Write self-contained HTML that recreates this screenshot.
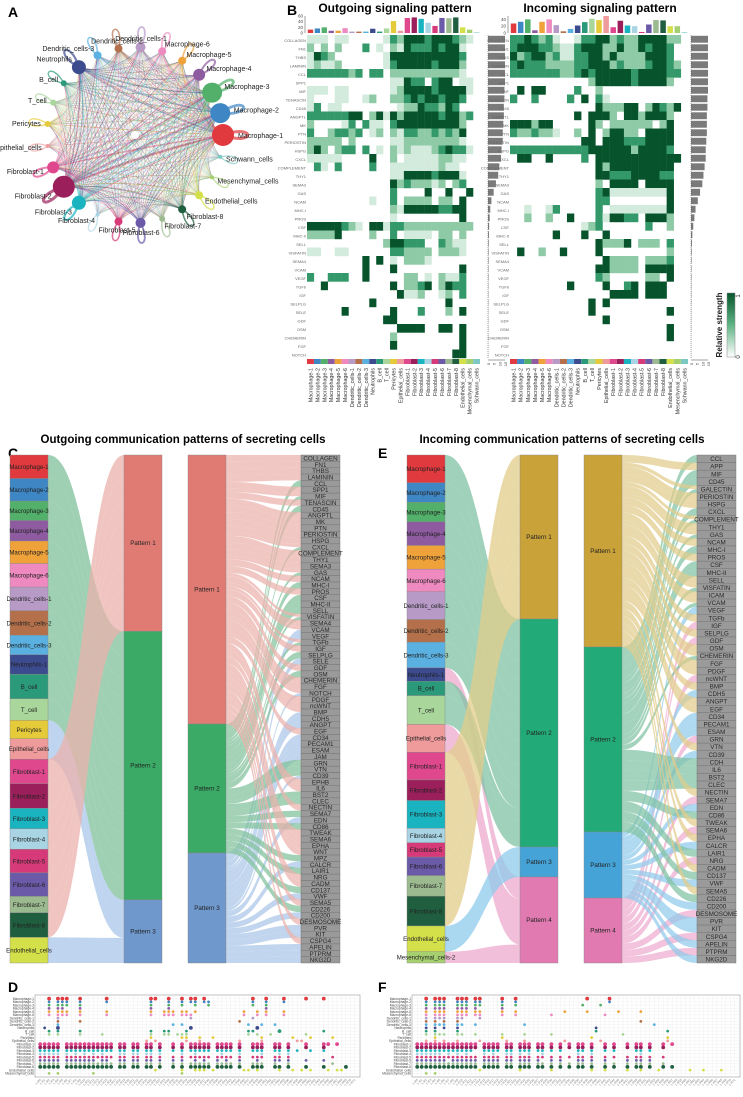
<!DOCTYPE html>
<html><head><meta charset="utf-8">
<style>
html,body{margin:0;padding:0;background:#fff;}
svg{display:block;font-family:"Liberation Sans",Arial,sans-serif;}
</style></head>
<body>
<svg id="fig" width="743" height="1097" viewBox="0 0 743 1097" xmlns="http://www.w3.org/2000/svg">
<rect x="0" y="0" width="743" height="1097" fill="#fff"/>
<text x="8" y="17" font-size="14" font-weight="bold">A</text>
<text x="287" y="15" font-size="14" font-weight="bold">B</text>
<text x="8" y="458" font-size="14" font-weight="bold">C</text>
<text x="378" y="458" font-size="14" font-weight="bold">E</text>
<text x="8" y="992" font-size="14" font-weight="bold">D</text>
<text x="378" y="992" font-size="14" font-weight="bold">F</text>
<text x="395" y="12" font-size="12" font-weight="bold" text-anchor="middle">Outgoing signaling pattern</text>
<text x="600" y="12" font-size="12" font-weight="bold" text-anchor="middle">Incoming signaling pattern</text>
<text x="183" y="443" font-size="11.5" font-weight="bold" text-anchor="middle">Outgoing communication patterns of secreting cells</text>
<text x="562" y="443" font-size="11.5" font-weight="bold" text-anchor="middle">Incoming communication patterns of secreting cells</text>
<g id="gA"></g><g id="gB"></g><g id="gC"></g><g id="gE"></g><g id="gD"></g>
</svg>
<script>
// ---------- data ----------
const cellNames=["Macrophage-1","Macrophage-2","Macrophage-3","Macrophage-4","Macrophage-5","Macrophage-6","Dendritic_cells-1","Dendritic_cells-2","Dendritic_cells-3","Neutrophils","B_cell","T_cell","Pericytes","Epithelial_cells","Fibroblast-1","Fibroblast-2","Fibroblast-3","Fibroblast-4","Fibroblast-5","Fibroblast-6","Fibroblast-7","Fibroblast-8","Endothelial_cells","Mesenchymal_cells","Schwann_cells"];
const cellColors=["#e0393e","#3f86c4","#52b06a","#8e5ba0","#f0a23a","#ee8ac0","#b79ac6","#b3704a","#5ab0e0","#3c4a8e","#2b9a7a","#a9d69a","#e5cb3a","#ef9b9b","#e0488e","#9a1f5a","#1ab4c0","#a8d4e4","#d63a78","#6a5aa8","#9cba90","#1f5e3e","#d4e04a","#a6d070","#7ec8c4"];
const nodeSize=[11,10,10,6,4,4,5,4,4,7,3,3,3,2,6,11,7,2,4,5,3,4,4,2,2];
const outRows=["1110110000013244434443210","2020200030102143334344100","1432000000014444444444300","1211200000013444443444200","3333332303302222222222100","0000000000001143303440110","1110110000001244443444410","1000110012002234344344300","1301100000000122433243000","3333334402414244444344230","2000013031103444444444200","3002332301202133223232400","2222202000001122222222100","2420233030102121112343310","1111100004002011111221100","0310300003001111111211000","0000000000001144443444100","0000000000004232221202300","0000000000003000040040040","0000000001003022220220400","0000000000002144444334400","0000000000001000000000400","4444432104413322222222220","2222400002003011110220200","0000000000024433300321100","1100110000003322220222100","0000000040401022210000000","0000000040004000000000400","3003330040000022010211300","0040000000004022340243300","0000000000000411200120300","0000000004000000000040000","0000040000004000300020400","0000000000044000000000000","0000000000000444400440400","0000000000002000000000400","0000000000004000000000400","0000000000000000000004400"];
const inRows=["3343231001334423224444220","3444332113444224224344300","4234423113344242222444300","3433322223344423222344320","3333333223434444434444330","0000000000024444434444200","0404400003002000000000000","3003000030403100000000000","0000000000004222440243240","0000000004044420442444200","4442440000042022222202400","3223221002040244220444400","0000000000440444333444400","3333333333344444424444300","0440040000304444444444440","0000000000004244444444400","0000000000004433344443300","0000000000002044440444400","0000000000003411111111400","0000000000003300000000400","0010013000003011111111400","0020020040003144330444200","0000000000123000000300200","0000004000400400000000000","0000000000004222402220300","0400200400004000000000200","0000000000000422220222300","0000000000004422220444400","0000000000003200000220400","0000000040000400340444000","0000000000000044440444000","0000000000040400000000000","0000000000040000000000400","0000000000000400000000000","0000000000000000000000400","0000000000000000000000400","0000000000000000000000000","0000000000000000000000000"];
const outTop=[12,16,20,8,8,17,5,5,5,15,5,16,42,8,53,55,50,36,25,53,52,55,20,12,2];
const inTop=[28,33,40,8,33,40,23,5,12,22,32,42,38,50,17,36,22,20,3,25,38,37,20,20,2];
const outSide=[15,15,15,15,15,15,14.5,14.5,14,14,13.5,13,13,12,11.5,10,9,7,5,3,2,1.5,1,0.8,0.6,0.5,0.5,0.4,0.4,0.3,0.3,0.3,0.2,0.2,0.2,0.2,0.1,0.1];
const inSide=[15,15,15,15,15,15,15,14.5,14.5,14,14,14,13.5,13,13,12,11,10,8,6,4,3,2,1.2,0.8,0.6,0.5,0.4,0.4,0.3,0.3,0.3,0.2,0.2,0.2,0.1,0.1,0.1];
const heatSig=["COLLAGEN","FN1","THBS","LAMININ","CCL","SPP1","MIF","TENASCIN","CD45","ANGPTL","MK","PTN","PERIOSTIN","HSPG","CXCL","COMPLEMENT","THY1","SEMA3","GAS","NCAM","MHC-I","PROS","CSF","MHC-II","SELL","VISFATIN","SEMA4","VCAM","VEGF","TGFb","IGF","SELPLG","SELE","GDF","OSM","CHEMERIN","FGF","NOTCH"];
const cellsC=[0,1,2,3,4,5,6,7,8,9,10,11,12,13,14,15,16,17,18,19,20,21,22];
const weightC=[23,22,19,20,22,23,23,24,19,19,24,21,18,20,24,24,20,20,23,23,16,24,25];
const assignC=[2,2,2,2,2,2,2,2,2,2,2,2,3,3,1,1,1,1,1,1,1,1,3];
const patLeftC=[176,268,63];
const patRightC=[269,129,110];
const sigC=["COLLAGEN","FN1","THBS","LAMININ","CCL","SPP1","MIF","TENASCIN","CD45","ANGPTL","MK","PTN","PERIOSTIN","HSPG","CXCL","COMPLEMENT","THY1","SEMA3","GAS","NCAM","MHC-I","PROS","CSF","MHC-II","SELL","VISFATIN","SEMA4","VCAM","VEGF","TGFb","IGF","SELPLG","SELE","GDF","OSM","CHEMERIN","FGF","NOTCH","PDGF","ncWNT","BMP","CDH5","ANGPT","EGF","CD34","PECAM1","ESAM","JAM","GRN","VTN","CD39","EPHB","IL6","BST2","CLEC","NECTIN","SEMA7","EDN","CD86","TWEAK","SEMA6","EPHA","WNT","MPZ","CALCR","LAIR1","NRG","CADM","CD137","VWF","SEMA5","CD226","CD200","DESMOSOME","PVR","KIT","CSPG4","APELIN","PTPRM","NKG2D"];
const sigPatC=["1","1","1","1","2","1","12","1","2","1","1","1","1","1","12","1","1","1","12","1","2","1","2","2","2","12","1","13","3","12","1","2","3","1","2","1","1","13","1","1","13","3","3","1","3","3","3","3","2","2","23","1","1","2","2","1","2","3","2","1","1","1","1","2","3","2","1","1","2","3","1","2","3","1","3","3","1","3","3","3"];
const cellsE=[0,1,2,3,4,5,6,7,8,9,10,11,13,14,15,16,17,18,19,20,21,22,23];
const weightE=[27,19,19,23,23,22,27,22,25,13,14,28,27,27,20,27,14,14,18,20,29,25,11];
const assignE=[2,2,2,2,2,2,2,2,2,4,2,2,4,1,1,1,1,1,1,1,1,3,4];
const patLeftE=[164,228,30,86];
const patRightE=[192,185,66,65];
const sigE=["CCL","APP","MIF","CD45","GALECTIN","PERIOSTIN","HSPG","CXCL","COMPLEMENT","THY1","GAS","NCAM","MHC-I","PROS","CSF","MHC-II","SELL","VISFATIN","ICAM","VCAM","VEGF","TGFb","IGF","SELPLG","GDF","OSM","CHEMERIN","FGF","PDGF","ncWNT","BMP","CDH5","ANGPT","EGF","CD34","PECAM1","ESAM","GRN","VTN","CD39","CDH","IL6","BST2","CLEC","NECTIN","SEMA7","EDN","CD86","TWEAK","SEMA6","EPHA","CALCR","LAIR1","NRG","CADM","CD137","VWF","SEMA5","CD226","CD200","DESMOSOME","PVR","KIT","CSPG4","APELIN","PTPRM","NKG2D"];
const sigPatE=["2","1","2","2","12","1","1","2","12","1","12","1","2","1","2","2","1","12","1","12","3","1","4","1","4","1","12","1","1","4","1","3","1","1","3","3","3","4","1","3","2","2","2","2","1","4","3","2","1","4","1","3","2","4","1","2","3","1","2","3","4","3","3","4","3","4","3"];
const dotRowsD=["..O.OOO..O.....O.........OO..O..O.OO.O..........O..O...O....O...O.....","..o.ooo..o.....o.........o...o..o.oo.oo.........o..o...o..............","..o.ooo..o...............o...o..o..o..o.........o..o..................","..o.oo...o...............o...o.....................o..................","..o.ooo..o.....o.........o..ooo.oo.o..........o..o.o...o.............","..o.ooo..o.....o.........o..ooo.ooo...........o..o.o...o.............","....o.............................o.............o.....................","....o....o...................................o.........................","....o.........................o.o..............o..o..o...............",".o..O.............................O..............O....................","..o.o....o...............o..oo...o.............oo.....O.........o.....","..o.o....o....o..........o..oo.ooo.............o.o..o.......o.........",".........................o......oo..o..o..........o......o...o....o...","........................o.o......o..o........o....o.......oo..........","OOOOO.OOOOOOOOOOO.OO.OO.OO.O..O.O.OOOOO.OOOO.O..OOO..OO.O...O...OO.O..","OOOOO.OOOOOOOOOOO.OO.OO.OO.O..O.O.OOOOO.OOOO.O..OOO..OO.O...O...O.....","ooooo.ooooooooooo.oo.oo.oo.o..o.o.ooooo.oooo.o..ooo..oo.o.o..o..o.....","ooooo.o.o.o.o.o...oo.oo.oo.o....o..o.....o...o....o...o.o.............","ooooo.ooooooooooo.oo.oo.oo.o..o.o.ooooo.oooo.o..ooo..oo.o.........o...","ooooo.ooooooo.oo..oo.oo.oo.o..o.o..o.o..o.o..o...o...oo.o...o...o.....","ooooo.ooooooooooo.oo.oo.oo.o..o.o.ooooo.oooo.o..ooo..o..o.........o...","OOOOO.OOOOOOOOOOO.OO.OO.OO.O..O.O.OOOOO.OOOO.O..OOO..OO.O...O...O....O","..........................o.....o..ooo.o......oo.o....o..o.o.o...o.oo.","..o.o.......o...................o......................................."];
const dotRowsF=["..O.OOO..OOO.OO....O..O...............O....O..........................","..o.ooo..ooo.oo....o..o....................o..........................","..o.ooo..ooo.oo....o..o..............o...o.............................","..o.ooo..ooo.o.....o...................................................","..o.ooo..ooo.oo....o..o..........o....o......o....o....................","..o.ooo..ooo.oo....o..o.......o...........o............................","..o.ooo..oo...o........................................................","..o.o.o..o........................................o....................","..o.ooo..oo..o..........o............................o.................","..o.o.o..o..............................o.............................","..o.o....o..............................o...............o..............","..o.ooo..oo..o.....o....o.....o...............o........................","....o..............o...................o................o.............","..o.o.o..o....o.....o...o........o.......o..............o..............","OOOOOOOOOOOOOO.OOOO.OO.OOO.OO.O.O.O.OO.O..O.O..O.OO.O..O.O.............","OOOOOOOOOOOOOO.OOOO.OO.OOO.OO.O.O.O.OO.O..O.O..O.OO.O..O...............","ooooooooooooo..oooo.oo.ooo.oo.o.o...oo.o..o.o....oo.o..................","oooooo.o.o.o...o.o..oo.o.o..o.......o..o..........o....................","oooooooooooooo.oooo.oo.ooo.oo.o.o.o.oo.o..o.o..o.oo.o..o...............","ooooooo.oooooo.oooo.oo.ooo.o..o.o...oo.o..o....o.oo.o..................","oooooooooooooo.oooo.oo.ooo.oo.o.o.o.oo.o..o.o..o.oo.o..o...............","OOOOOOOOOOOOOO.OOOO.OO.OOO.OO.O.O.O.OO.O..O.O..O.OO.O..O.O.............","..............o........o......o........o..o....o..o...o......o..o...o..","..o.o.................................................................."];
const dotCellsD=[0,1,2,3,4,5,6,7,8,9,10,11,12,13,14,15,16,17,18,19,20,21,22,23];

const NS="http://www.w3.org/2000/svg";
function mk(tag,parent,attrs){const e=document.createElementNS(NS,tag);for(const k in attrs)e.setAttribute(k,attrs[k]);parent.appendChild(e);return e;}
function tx(parent,x,y,s,size,anchor,attrs){const e=mk("text",parent,Object.assign({x:x,y:y,"font-size":size,"text-anchor":anchor||"start",fill:"#222"},attrs||{}));e.textContent=s;return e;}
const greens=["#ffffff","#d3ebdc","#8dcaa5","#34996a","#07542c"];

(function(){
 const g=document.getElementById("gA");
 const cx=135,cy=135,R=88,n=cellNames.length;
 const pos=cellNames.map((_,i)=>{const a=i*2*Math.PI/n;return [cx+R*Math.cos(a),cy-R*Math.sin(a),Math.cos(a),-Math.sin(a)];});
 pos.forEach((p,i)=>{const u=[p[2],p[3]],v=[-p[3],p[2]];const L=22+nodeSize[i],Wd=12;
  const d=`M${p[0]},${p[1]} C${p[0]+u[0]*L+v[0]*Wd},${p[1]+u[1]*L+v[1]*Wd} ${p[0]+u[0]*L-v[0]*Wd},${p[1]+u[1]*L-v[1]*Wd} ${p[0]},${p[1]}`;
  const e=mk("path",g,{d:d,fill:"none",stroke:cellColors[i],"stroke-width":0.8+nodeSize[i]/5,opacity:0.7});
  
  
 });
 for(let i=0;i<n;i++)for(let j=0;j<n;j++){if(i===j)continue;
  const a=pos[i],b=pos[j];const mx=(a[0]+b[0])/2,my=(a[1]+b[1])/2;const qx=mx+(cx-mx)*0.25+(j>i?4:-4),qy=my+(cy-my)*0.25;
  const w=0.2+(nodeSize[i]*nodeSize[j])/80;
  const e=mk("path",g,{d:`M${a[0]},${a[1]} Q${qx},${qy} ${b[0]},${b[1]}`,fill:"none",stroke:cellColors[i],"stroke-width":Math.min(w,1.8),opacity:0.4});
  
  
 }
 mk("circle",g,{cx:cx,cy:cy,r:4,fill:"#fff"});
 pos.forEach((p,i)=>{
  const c=mk("circle",g,{cx:p[0],cy:p[1],r:nodeSize[i],fill:cellColors[i]});
  
  
  const lx=p[0]+p[2]*(nodeSize[i]+4),ly=p[1]+p[3]*(nodeSize[i]+4)+3;
  const anc=p[2]>0.3?"start":(p[2]<-0.3?"end":"middle");
  const t=tx(g,lx,ly,cellNames[i],7,anc,{fill:"#222"});
  
  
 });
})();

function heat(x0,x1,rows,top,topMax,side,sideX){
 const g=document.getElementById("gB");
 const y0=35,y1=358,nc=25,cw=(x1-x0)/nc,rh=(y1-y0)/rows.length;
 rows.forEach((r,ri)=>{for(let c=0;c<nc;c++){const v=+r[c];if(!v)continue;
  const e=mk("rect",g,{x:x0+c*cw,y:y0+ri*rh,width:cw+0.2,height:rh+0.2,fill:greens[v]});
  
  }
  const t=tx(g,x0-1,y0+ri*rh+rh*0.8,heatSig[ri],4,"end",{fill:"#666"});
  
  
 });
 const by=33,bh=17;
 top.forEach((v,c)=>{const h=v/topMax*bh;
  const e=mk("rect",g,{x:x0+c*cw+0.8,y:by-h,width:cw-1.6,height:h,fill:cellColors[c]});
  
  });
 mk("line",g,{x1:x0-2,y1:by,x2:x0-2,y2:by-bh,stroke:"#444","stroke-width":0.5});
 [0,20,40,60].filter(t=>t<=topMax).forEach(t=>{tx(g,x0-4,by-t/topMax*bh+1.5,String(t),4.5,"end",{fill:"#444"});});
 side.forEach((v,ri)=>{const w=v/15*17;
  const e=mk("rect",g,{x:sideX,y:y0+ri*rh+0.8,width:w,height:rh-1.6,fill:"#7a7a7a"});
  
  });
 mk("line",g,{x1:sideX,y1:y0,x2:sideX,y2:y1,stroke:"#555","stroke-width":0.5,"stroke-dasharray":"1,1"});
 mk("line",g,{x1:sideX,y1:y1+2,x2:sideX+17,y2:y1+2,stroke:"#444","stroke-width":0.5});
 [0,5,10,15].forEach(t=>{tx(g,sideX+t/15*17,y1+8,String(t),4,"middle",{fill:"#444",transform:`rotate(-90 ${sideX+t/15*17} ${y1+6})`});});
 cellNames.forEach((nm,c)=>{
  const e=mk("rect",g,{x:x0+c*cw,y:y1+1,width:cw,height:5,fill:cellColors[c]});
  
  
  const lx=x0+c*cw+cw/2+2;
  const t=tx(g,lx,368,nm,5.3,"end",{transform:`rotate(-90 ${lx} 368)`,fill:"#333"});
  
  
 });
}
heat(307,480,outRows,outTop,60,outSide,488);
heat(510,688,inRows,inTop,50,inSide,691);
(function(){const g=document.getElementById("gB");
 const d=mk("defs",g,{});const lg=mk("linearGradient",d,{id:"lg",x1:0,y1:1,x2:0,y2:0});
 mk("stop",lg,{offset:"0","stop-color":"#ffffff"});mk("stop",lg,{offset:"0.5","stop-color":"#5fb585"});mk("stop",lg,{offset:"1","stop-color":"#07542c"});
 const r=mk("rect",g,{x:727,y:293,width:8,height:64,fill:"url(#lg)",stroke:"#888","stroke-width":0.5});
 
 
 tx(g,740,296,"1",6,"middle",{transform:"rotate(-90 740 296)"});
 tx(g,740,357,"0",6,"middle",{transform:"rotate(-90 740 357)"});
 const t=tx(g,722,325,"Relative strength",8,"middle",{"font-weight":"bold",transform:"rotate(-90 722 325)"});
 
 
})();

function ribbon(g,x0,a0,a1,x1,b0,b1,color,op){const xm=(x0+x1)/2;
 const e=mk("path",g,{d:`M${x0},${a0} C${xm},${a0} ${xm},${b0} ${x1},${b0} L${x1},${b1} C${xm},${b1} ${xm},${a1} ${x0},${a1} Z`,fill:color,opacity:op});
 
 
 return e;}
function sankey(gid,cells,weights,assign,patL,patR,sigs,sigPat,X,patCol,flowCol){
 const g=document.getElementById(gid);const Y0=455,Y1=963,H=Y1-Y0;
 const np=patL.length;
 const wsum=weights.reduce((a,b)=>a+b,0);
 const sumA=new Array(np).fill(0);weights.forEach((w,i)=>sumA[assign[i]-1]+=w);
 const plTot=patL.reduce((a,b)=>a+b,0);
 const plY=[];let acc=Y0;patL.forEach(h=>{plY.push(acc);acc+=h/plTot*H;});
 const off=plY.slice();
 let cy=Y0;const cellY=[];
 weights.forEach((w,i)=>{const h=w/wsum*H;cellY.push([cy,h]);
  const p=assign[i]-1;const th=w/sumA[p]*patL[p]/plTot*H;
  ribbon(g,X.cell+38,cy,cy+h,X.patL,off[p],off[p]+th,flowCol[p],0.75);off[p]+=th;cy+=h;});
 cellY.forEach((c,i)=>{
  const r=mk("rect",g,{x:X.cell,y:c[0],width:38,height:c[1],fill:cellColors[cells[i]],stroke:"#888","stroke-width":0.4});
  
  
  const t=tx(g,X.cell+19,c[0]+c[1]/2+2.3,cellNames[cells[i]]+(cells[i]===9?"-1":"")+(gid==="gE"&&cells[i]===23?"-2":""),6.1,"middle",{fill:"#222"});
  
  });
 patL.forEach((h,p)=>{const hh=h/plTot*H;
  const r=mk("rect",g,{x:X.patL,y:plY[p],width:38,height:hh,fill:patCol[p],stroke:"#888","stroke-width":0.4});
  
  
  tx(g,X.patL+19,plY[p]+hh/2+2,"Pattern "+(p+1),6.3,"middle");});
 const prTot=patR.reduce((a,b)=>a+b,0);
 const prY=[];acc=Y0;patR.forEach(h=>{prY.push(acc);acc+=h/prTot*H;});
 const cnt=new Array(np).fill(0);sigPat.forEach(s=>{for(const ch of s)cnt[+ch-1]+=1/s.length;});
 const off2=prY.slice();const sh=H/sigs.length;
 sigs.forEach((s,i)=>{const ps=sigPat[i];let sy=Y0+i*sh;const part=sh/ps.length;
  for(const ch of ps){const p=+ch-1;const th=(1/ps.length)/cnt[p]*patR[p]/prTot*H;
   ribbon(g,X.patR+38,off2[p],off2[p]+th,X.sig,sy,sy+part,flowCol[p],0.72);off2[p]+=th;sy+=part;}});
 patR.forEach((h,p)=>{const hh=h/prTot*H;
  const r=mk("rect",g,{x:X.patR,y:prY[p],width:38,height:hh,fill:patCol[p],stroke:"#888","stroke-width":0.4});
  
  
  tx(g,X.patR+19,prY[p]+hh/2+2,"Pattern "+(p+1),6.3,"middle");});
 sigs.forEach((s,i)=>{
  const r=mk("rect",g,{x:X.sig,y:Y0+i*sh,width:39,height:sh,fill:"#9a9a9a",stroke:"#6e6e6e","stroke-width":0.4});
  
  
  const t=tx(g,X.sig+19.5,Y0+i*sh+sh/2+2.3,s,6.3,"middle",{fill:"#2a2a2a"});
  
  });
}
sankey("gC",cellsC,weightC,assignC,patLeftC,patRightC,sigC,sigPatC,{cell:10,patL:124,patR:188,sig:301},["#e07b74","#3aaa66","#6f98cc"],["#ebb2ac","#7fc09a","#a9c6e8"]);
sankey("gE",cellsE,weightE,assignE,patLeftE,patRightE,sigE,sigPatE,{cell:407,patL:520,patR:584,sig:697},["#c9a23a","#22aa78","#45a3d8","#e07ab0"],["#e2cc8a","#7fc2a4","#8fcbec","#eeaace"]);

function dots(rows,bx0,bx1){const g=document.getElementById("gD");const by0=995,by1=1077;
 const nc=72,nr=rows.length;const cw=(bx1-bx0-6)/nc,rh=(by1-by0-4)/nr;
 mk("rect",g,{x:bx0,y:by0,width:bx1-bx0,height:by1-by0,fill:"#fff",stroke:"#999","stroke-width":0.6});
 for(let c=0;c<nc;c++)mk("line",g,{x1:bx0+3+c*cw+cw/2,y1:by0,x2:bx0+3+c*cw+cw/2,y2:by1,stroke:"#ececec","stroke-width":0.4});
 for(let r=0;r<nr;r++)mk("line",g,{x1:bx0,y1:by0+2+r*rh+rh/2,x2:bx1,y2:by0+2+r*rh+rh/2,stroke:"#ececec","stroke-width":0.4});
 rows.forEach((s,r)=>{const ci=dotCellsD[r];
  const t=tx(g,bx0-1,by0+2+r*rh+rh/2+1.2,cellNames[ci],3.3,"end",{fill:"#444"});
  
  
  for(let c=0;c<s.length;c++){const ch=s[c];if(ch===".")continue;
   const e=mk("circle",g,{cx:bx0+3+c*cw+cw/2,cy:by0+2+r*rh+rh/2,r:ch==="O"?1.9:1.4,fill:cellColors[ci]});
   
   }});
 for(let c=0;c<nc;c+=1){const x=bx0+3+c*cw+cw/2;
  tx(g,x+1,by1+3,"L-R"+c,3,"end",{fill:"#777",transform:`rotate(-45 ${x+1} ${by1+3})`});}
}
dots(dotRowsD,35,360);
dots(dotRowsF,412,740);
</script>
</body></html>
